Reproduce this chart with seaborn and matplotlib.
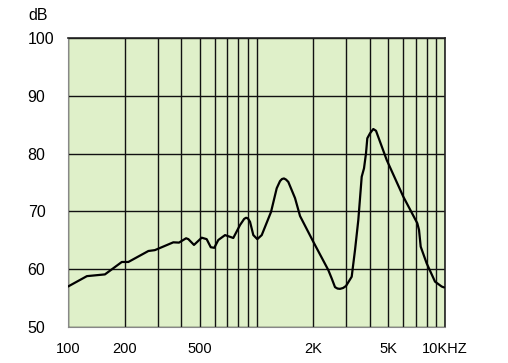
import matplotlib
matplotlib.use("Agg")
import matplotlib.pyplot as plt
import seaborn as sns
import pandas as pd

# Frequency response
freq_hz = [100, 126, 157, 193, 209, 267, 289, 362, 388, 423, 435, 466, 512, 544,
           572, 597, 627, 681, 724, 753, 818, 860, 880, 900, 924, 962, 1010, 1066,
           1194, 1280, 1333, 1365, 1399, 1435, 1475, 1601, 1702, 2001, 2404, 2506,
           2609, 2690, 2773, 2880, 2985, 3199, 3331, 3468, 3615, 3718, 3810, 3871,
           4000, 4165, 4305, 4906, 6008, 7131, 7280, 7432, 7997, 8851, 9605, 9879]
level_db = [57.0, 58.8, 59.1, 61.25, 61.25, 63.15, 63.3, 64.65, 64.6, 65.35, 65.2,
            64.2, 65.45, 65.2, 63.8, 63.7, 65.05, 65.9, 65.6, 65.4, 67.65, 68.7,
            68.9, 68.8, 68.2, 65.9, 65.2, 65.9, 69.9, 74.0, 75.25, 75.6, 75.7,
            75.5, 75.1, 72.3, 69.2, 64.75, 59.85, 58.4, 56.9, 56.65, 56.6, 56.75,
            57.1, 58.7, 63.3, 68.5, 76.0, 77.45, 80.05, 82.65, 83.5, 84.25, 83.95,
            78.9, 72.55, 67.95, 66.8, 63.9, 61.0, 57.85, 57.0, 56.85]

x_ticks = [100, 200, 500, 2000, 5000, 10000]
x_tick_labels = ["100", "200", "500", "2K", "5K", "10KHZ"]
x_grid = [100, 200, 300, 400, 500, 600, 700, 800, 900, 1000,
          2000, 3000, 4000, 5000, 6000, 7000, 8000, 9000, 10000]
y_ticks = [50, 60, 70, 80, 90, 100]
y_tick_labels = ["50", "60", "70", "80", "90", "100"]

sns.set_theme(style="white")
plt.rcParams["font.family"] = ["Liberation Sans", "DejaVu Sans"]

fig = plt.figure(figsize=(5.08, 3.63), dpi=100)
ax = fig.add_axes([68 / 508, 36 / 363, (445 - 68) / 508, (327 - 38) / 363])
ax.set_facecolor("#DFF0C9")

df = pd.DataFrame({"f": freq_hz, "db": level_db})
ax.set_xscale("log")
for g in x_grid:
    ax.axvline(g, color="#111111", lw=1.0, zorder=1)
for yv in y_ticks:
    ax.axhline(yv, color="#111111", lw=1.0, zorder=1)

sns.lineplot(data=df, x="f", y="db", ax=ax, color="black", lw=1.6, zorder=3)

ax.set_xlim(100, 10000)
ax.set_ylim(50, 100)
ax.set_xticks(x_ticks)
ax.set_xticklabels(x_tick_labels)
ax.minorticks_off()
ax.set_yticks(y_ticks)
ax.set_yticklabels(y_tick_labels, ha="left")
ax.tick_params(axis="y", length=0, pad=29, labelsize=11.5, colors="black")
ax.tick_params(axis="x", length=0, pad=11, labelsize=10.5, colors="black")
ax.set_xlabel("")
ax.set_ylabel("")

for side in ["top", "right"]:
    ax.spines[side].set_color("#222222")
    ax.spines[side].set_linewidth(1.2)
for side in ["left", "bottom"]:
    ax.spines[side].set_color("#888888")
    ax.spines[side].set_linewidth(0.8)

fig.text(28 / 508, 1 - 15 / 363, "dB", ha="left", va="center", fontsize=11.5, color="black")

fig.savefig("out.png", dpi=100)
